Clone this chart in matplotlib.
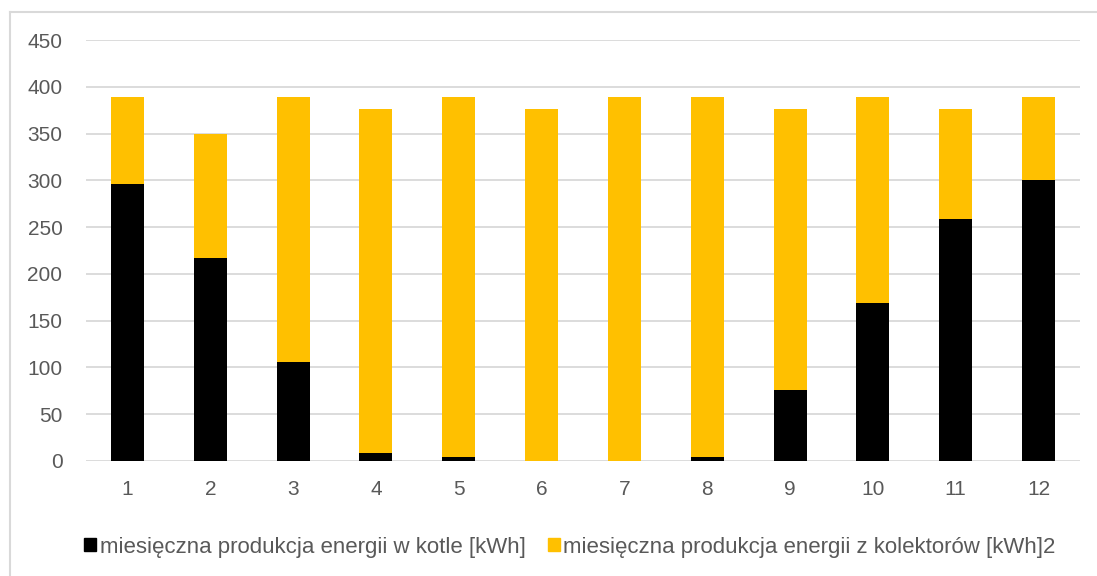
import matplotlib
matplotlib.use("Agg")
import matplotlib.pyplot as plt
from matplotlib.lines import Line2D
from matplotlib.patches import Patch
import numpy as np

months = [1, 2, 3, 4, 5, 6, 7, 8, 9, 10, 11, 12]
kotel = [296, 217, 106, 8.5, 4.3, 0, 0, 4.3, 76, 169, 259, 300]
kolektory = [93, 133, 283, 367.5, 384.7, 376, 389, 384.7, 300, 220, 117, 89]
labels = ["miesięczna produkcja energii w kotle [kWh]",
          "miesięczna produkcja energii z kolektorów [kWh]2"]

plt.rcParams["font.family"] = ["Liberation Sans", "DejaVu Sans"]

fig = plt.figure(figsize=(10.97, 5.76), dpi=100)
ax = fig.add_axes([86 / 1097, 1 - 461 / 576, (1080 - 86) / 1097, (461 - 40) / 576])

x = np.array(months)
ax.bar(x, kotel, width=0.4, color="#000000", zorder=3)
ax.bar(x, kolektory, width=0.4, bottom=kotel, color="#FFC000", zorder=3)

ax.set_xlim(0.5, 12.5)
ax.set_ylim(0, 450)
ax.set_yticks(range(0, 451, 50))
ax.set_xticks(x)
ax.set_xticklabels([str(m) for m in months])
ax.grid(axis="y", color="#d9d9d9", linewidth=1.3, zorder=0)
for s in ax.spines.values():
    s.set_visible(False)
ax.tick_params(length=0, labelsize=15, colors="#595959")
ax.tick_params(axis="y", pad=17)
ax.tick_params(axis="x", pad=14)

handles = [Patch(color="#000000"), Patch(color="#FFC000")]
fig.legend(handles, labels, loc="center", bbox_to_anchor=(570 / 1097, 1 - 547 / 576),
           ncol=2, frameon=False, fontsize=16, handlelength=0.55, handleheight=0.55,
           handletextpad=0.15, columnspacing=1.0, labelcolor="#595959")

# chart frame (left and top edges visible)
fig.add_artist(Line2D([10 / 1097, 10 / 1097], [0, 1 - 12 / 576], color="#d9d9d9", linewidth=1.5))
fig.add_artist(Line2D([10 / 1097, 1], [1 - 12 / 576, 1 - 12 / 576], color="#d9d9d9", linewidth=1.5))

fig.savefig("out.png", dpi=100)
